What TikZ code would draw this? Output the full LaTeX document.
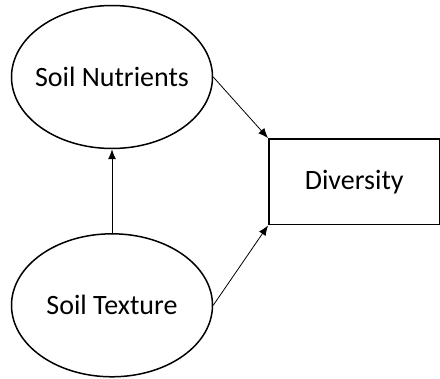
\documentclass[tikz,border=0pt]{standalone}
\usepackage{fontspec}
\setmainfont{Carlito}
\usepackage{tikz}
\usetikzlibrary{arrows.meta,positioning,shapes.geometric}

\begin{document}
\begin{tikzpicture}[x=1pt, y=1pt, >={Latex[length=10pt,width=8pt]}, font=\fontsize{28}{32}\selectfont]
\useasboundingbox (0,0) rectangle (440,-379);
\node(nutrients)[draw,ellipse,line width=1.5pt,minimum width=201pt,minimum height=143pt,inner xsep=-10pt,inner ysep=0pt] at (112,-77) {Soil Nutrients};
\node(texture)[draw,ellipse,line width=1.5pt,minimum width=201pt,minimum height=143pt,inner xsep=-10pt,inner ysep=0pt] at (112,-305.3) {Soil Texture};
\node(diversity)[draw,line width=1.8pt,minimum width=170.5pt,minimum height=85.5pt,inner sep=0pt] at (354.2,-181.8) {Diversity};

\draw[->,line width=0.8pt] (texture.north) -- (nutrients.south);
\draw[->,line width=0.8pt] (nutrients.east) -- (diversity.north west);
\draw[->,line width=0.8pt] (texture.east) -- (diversity.south west);
\end{tikzpicture}
\end{document}
